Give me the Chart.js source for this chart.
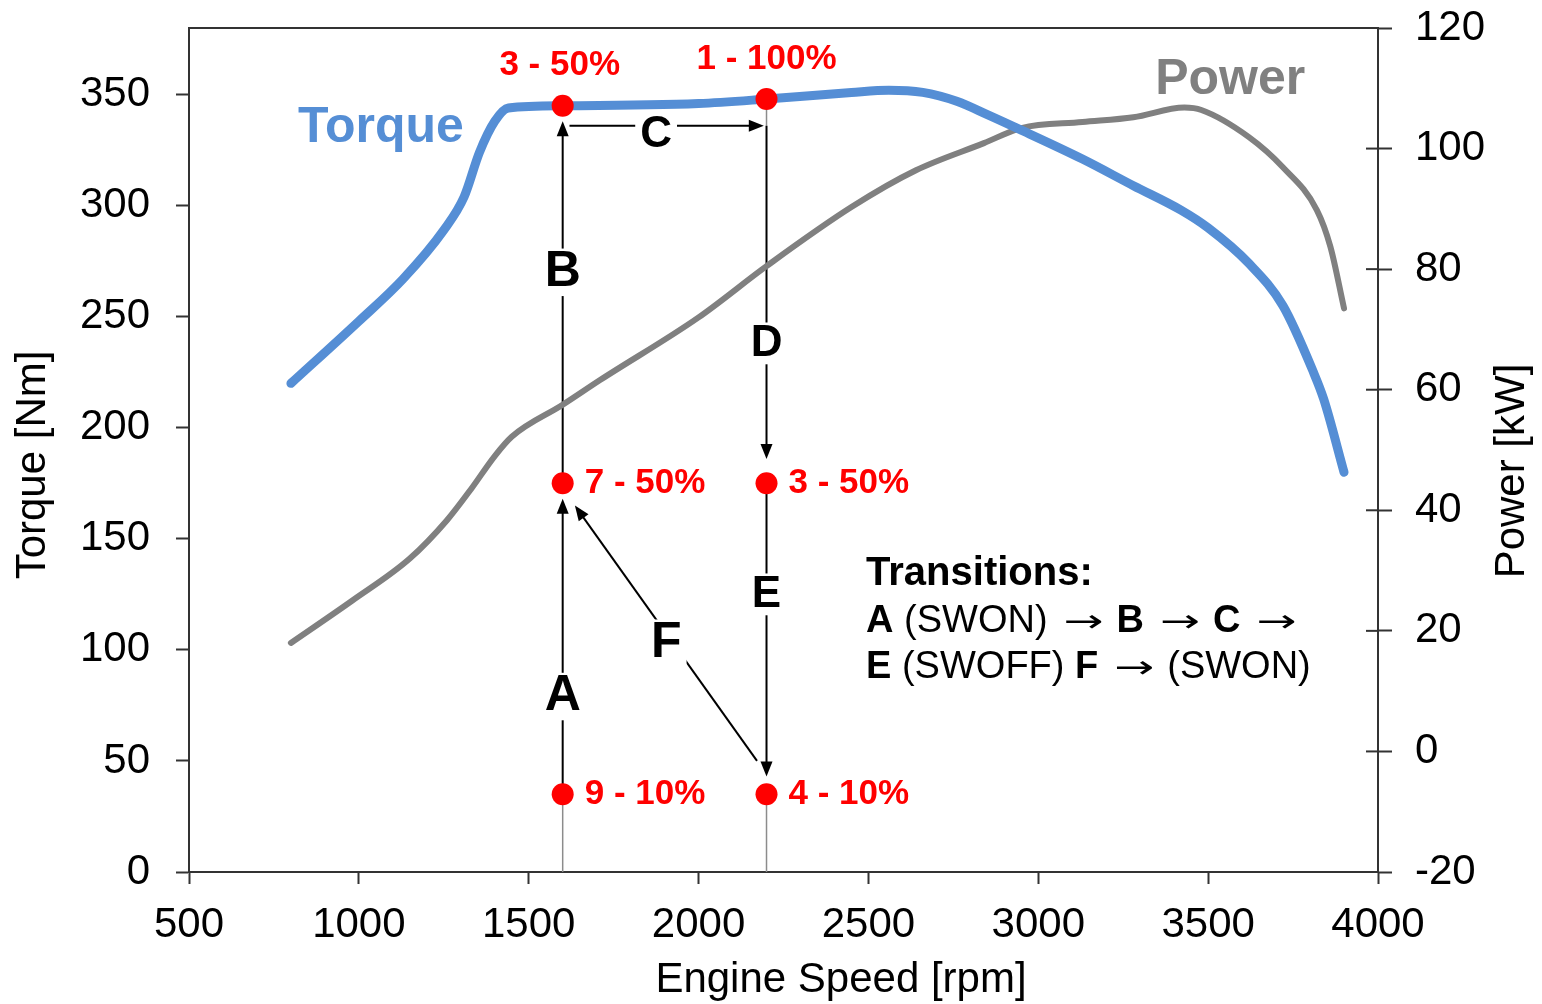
<!DOCTYPE html>
<html>
<head>
<meta charset="utf-8">
<script src="https://cdn.jsdelivr.net/npm/chart.js@4.4.1/dist/chart.umd.min.js"></script>
<style>
  html, body { margin: 0; padding: 0; background: #fff; }
  #chart { display: block; }
</style>
</head>
<body>
<canvas id="chart" width="1542" height="1004"></canvas>
<script>
// Axis ticks
const speedTicks = [500, 1000, 1500, 2000, 2500, 3000, 3500, 4000];
const torqueTicks = [0, 50, 100, 150, 200, 250, 300, 350];
const powerTicks = [-20, 0, 20, 40, 60, 80, 100, 120];

// Full load torque curve
const torqueRpm = [800, 1000, 1130, 1250, 1310, 1355, 1400, 1440, 1600, 2000, 2200, 2450, 2560, 2660, 2760, 2850, 2950, 3130, 3280, 3420, 3500, 3620, 3720, 3810, 3840, 3900];
const torqueNm = [220, 248, 267, 289, 304, 324, 338, 344, 345, 346, 348, 351, 352, 351, 347, 341, 334, 321, 309, 298, 290, 274, 255, 225, 213, 180];

// Power curve
const powerRpm = [800, 980, 1150, 1260, 1330, 1400, 1450, 1600, 1710, 2000, 2200, 2450, 2640, 2840, 2950, 3130, 3280, 3430, 3480, 3620, 3720, 3820, 3860, 3900];
const powerKw = [18, 25, 32, 38.4, 43.5, 49, 52.2, 57.5, 61.6, 72, 80.5, 90.3, 96.4, 100.9, 103.4, 104.4, 105.2, 106.8, 106.4, 101.9, 96.9, 89.8, 83.7, 73.5];

// Operating points (gear - load)
const pointRpm = [1600, 2200, 1600, 2200, 1600, 2200];
const pointNm = [345, 348, 175, 175, 35, 35];
const pointLabels = ['3 - 50%', '1 - 100%', '7 - 50%', '3 - 50%', '9 - 10%', '4 - 10%'];

// Transition arrows (rpm, Nm)
const arrowStart = [[1600, 35], [1600, 175], [1620, 336], [2200, 336], [2200, 175], [2172, 50]];
const arrowEnd = [[1600, 168], [1600, 338], [2192, 336], [2200, 186], [2200, 43], [1636, 165]];
const guideStart = [[1600, 0], [2200, 0], [2200, 348]];
const guideEnd = [[1600, 35], [2200, 35], [2200, 336]];

// Transition letters
const stepLetters = ['A', 'B', 'C', 'D', 'E', 'F'];
const stepRpm = [1600, 1600, 1875, 2200, 2200, 1905];
const stepNm = [79, 270, 332, 238, 125, 103];

const FONT = '"Liberation Sans", Arial, sans-serif';
const ARROW_FONT = '"DejaVu Sans", sans-serif';

function toXY(arr, key) {
    return arr.map((v, i) => ({ x: v, y: key[i] }));
}

function drawArrow(ctx, x1, y1, x2, y2) {
    const a = Math.atan2(y2 - y1, x2 - x1);
    const L = 15, W = 6;
    ctx.beginPath();
    ctx.moveTo(x1, y1);
    ctx.lineTo(x2 - L * Math.cos(a) * 0.8, y2 - L * Math.sin(a) * 0.8);
    ctx.stroke();
    ctx.beginPath();
    ctx.moveTo(x2, y2);
    ctx.lineTo(x2 - L * Math.cos(a) + W * Math.sin(a), y2 - L * Math.sin(a) - W * Math.cos(a));
    ctx.lineTo(x2 - L * Math.cos(a) - W * Math.sin(a), y2 - L * Math.sin(a) + W * Math.cos(a));
    ctx.closePath();
    ctx.fill();
}

// parts: [text, style] with style 'b' bold, 'r' regular, 'a' arrow glyph
function drawRich(ctx, parts, x, y) {
    parts.forEach(p => {
        if (p[1] === 'a') {
            // stretched arrow glyph, ~40px wide with gaps either side
            ctx.font = '32px ' + ARROW_FONT;
            const w = ctx.measureText(p[0]).width;
            ctx.save();
            ctx.translate(x + 16, y + 2);
            ctx.scale(40 / w, 1);
            ctx.fillText(p[0], 0, 0);
            ctx.restore();
            x += 16 + 40 + 13;
            return;
        }
        ctx.font = (p[1] === 'b' ? 'bold ' : '') + '38px ' + FONT;
        ctx.fillText(p[0], x, y);
        x += ctx.measureText(p[0]).width;
    });
}

const annotations = {
    id: 'annotations',
    beforeDatasetsDraw(chart) {
        const { ctx, scales: { x, y } } = chart;
        ctx.save();

        // thin guide lines down to the axis
        ctx.strokeStyle = '#8c8c8c';
        ctx.lineWidth = 1.5;
        guideStart.forEach((s, i) => {
            ctx.beginPath();
            ctx.moveTo(x.getPixelForValue(s[0]), y.getPixelForValue(s[1]));
            ctx.lineTo(x.getPixelForValue(guideEnd[i][0]), y.getPixelForValue(guideEnd[i][1]));
            ctx.stroke();
        });

        // arrows
        ctx.strokeStyle = '#000';
        ctx.fillStyle = '#000';
        ctx.lineWidth = 2;
        arrowStart.forEach((s, i) => {
            drawArrow(ctx,
                x.getPixelForValue(s[0]), y.getPixelForValue(s[1]),
                x.getPixelForValue(arrowEnd[i][0]), y.getPixelForValue(arrowEnd[i][1]));
        });

        // letters on white patches
        ctx.textAlign = 'center';
        ctx.textBaseline = 'middle';
        stepLetters.forEach((t, i) => {
            const size = 'ABF'.includes(t) ? 50 : 44;
            ctx.font = 'bold ' + size + 'px ' + FONT;
            const px = x.getPixelForValue(stepRpm[i]);
            const py = y.getPixelForValue(stepNm[i]);
            const w = ctx.measureText(t).width + 10;
            const h = size * 0.95;
            ctx.fillStyle = '#fff';
            ctx.fillRect(px - w / 2, py - h / 2, w, h);
            ctx.fillStyle = '#000';
            ctx.fillText(t, px, py);
        });
        ctx.restore();
    },
    afterDatasetsDraw(chart) {
        const { ctx, chartArea, scales: { x, y, y1 } } = chart;
        ctx.save();

        // top frame line and inner half of the right ticks
        ctx.strokeStyle = '#333';
        ctx.lineWidth = 2;
        ctx.beginPath();
        ctx.moveTo(chartArea.left, chartArea.top);
        ctx.lineTo(chartArea.right, chartArea.top);
        ctx.stroke();
        powerTicks.forEach(v => {
            const py = y1.getPixelForValue(v);
            ctx.beginPath();
            ctx.moveTo(chartArea.right - 12, py);
            ctx.lineTo(chartArea.right, py);
            ctx.stroke();
        });

        // point labels
        ctx.fillStyle = '#ff0000';
        ctx.font = 'bold 35px ' + FONT;
        ctx.textBaseline = 'middle';
        pointLabels.forEach((t, i) => {
            const px = x.getPixelForValue(pointRpm[i]);
            const py = y.getPixelForValue(pointNm[i]);
            if (i < 2) {
                ctx.textAlign = 'center';
                ctx.fillText(t, px - (i === 0 ? 3 : 0), py - 40);
            } else {
                ctx.textAlign = 'left';
                ctx.fillText(t, px + 22, py);
            }
        });

        // curve names
        ctx.textAlign = 'left';
        ctx.font = 'bold 50px ' + FONT;
        ctx.fillStyle = '#558ed5';
        ctx.fillText('Torque', x.getPixelForValue(821), y.getPixelForValue(335));
        ctx.fillStyle = '#808080';
        ctx.fillText('Power', x.getPixelForValue(3344), y1.getPixelForValue(111.4));

        // transitions note
        ctx.fillStyle = '#000';
        const tx = x.getPixelForValue(2493);
        const ty = y.getPixelForValue(134);
        ctx.font = 'bold 40px ' + FONT;
        ctx.fillText('Transitions:', tx, ty);
        drawRich(ctx, [['A', 'b'], [' (SWON)', 'r'], ['\u2192', 'a'], ['B', 'b'], ['\u2192', 'a'], ['C', 'b'], ['\u2192', 'a']], tx, ty + 47);
        drawRich(ctx, [['E', 'b'], [' (SWOFF) ', 'r'], ['F', 'b'], ['\u2192', 'a'], ['(SWON)', 'r']], tx, ty + 93);

        // axis titles
        ctx.font = '42px ' + FONT;
        ctx.textAlign = 'center';
        ctx.fillText('Engine Speed [rpm]', 841, 980);
        ctx.save();
        ctx.translate(33, 465);
        ctx.rotate(-Math.PI / 2);
        ctx.fillText('Torque [Nm]', 0, 0);
        ctx.restore();
        ctx.save();
        ctx.translate(1512, 471);
        ctx.rotate(-Math.PI / 2);
        ctx.fillText('Power [kW]', 0, 0);
        ctx.restore();

        ctx.restore();
    }
};

function initializeChart() {
    const ctx = document.getElementById('chart').getContext('2d');
    const tickFont = { family: FONT, size: 42 };
    const plain = v => String(v);
    new Chart(ctx, {
        type: 'line',
        data: {
            datasets: [{
                label: 'Operating points',
                data: toXY(pointRpm, pointNm),
                showLine: false,
                pointRadius: 11,
                pointBackgroundColor: '#ff0000',
                pointBorderWidth: 0,
                yAxisID: 'y',
                order: 0
            }, {
                label: 'Torque',
                data: toXY(torqueRpm, torqueNm),
                borderColor: '#558ed5',
                borderWidth: 9,
                borderCapStyle: 'round',
                cubicInterpolationMode: 'monotone',
                pointRadius: 0,
                yAxisID: 'y',
                order: 1
            }, {
                label: 'Power',
                data: toXY(powerRpm, powerKw),
                borderColor: '#808080',
                borderWidth: 6,
                borderCapStyle: 'round',
                cubicInterpolationMode: 'monotone',
                pointRadius: 0,
                yAxisID: 'y1',
                order: 2
            }]
        },
        options: {
            responsive: false,
            animation: false,
            devicePixelRatio: 1,
            layout: { padding: { top: 28, left: 0, right: 0, bottom: 0 } },
            plugins: {
                legend: { display: false },
                tooltip: { enabled: false }
            },
            scales: {
                x: {
                    type: 'linear',
                    min: 500,
                    max: 4000,
                    afterBuildTicks: s => { s.ticks = speedTicks.map(v => ({ value: v })); },
                    afterFit: s => { s.height = 132; s.paddingLeft = 0; s.paddingRight = 0; },
                    ticks: { font: tickFont, color: '#000', padding: 16, maxRotation: 0, autoSkip: false, callback: plain },
                    grid: { drawOnChartArea: false, color: '#333', tickLength: 12, tickWidth: 2 },
                    border: { color: '#333', width: 2 }
                },
                y: {
                    position: 'left',
                    min: 0,
                    max: 380,
                    afterBuildTicks: s => { s.ticks = torqueTicks.map(v => ({ value: v })); },
                    afterFit: s => { s.width = 189; s.paddingTop = 0; s.paddingBottom = 0; },
                    ticks: { font: tickFont, color: '#000', padding: 26, callback: plain },
                    grid: { drawOnChartArea: false, color: '#333', tickLength: 13, tickWidth: 2 },
                    border: { color: '#333', width: 2 }
                },
                y1: {
                    position: 'right',
                    min: -20,
                    max: 120,
                    afterBuildTicks: s => { s.ticks = powerTicks.map(v => ({ value: v })); },
                    afterFit: s => { s.width = 164; s.paddingTop = 0; s.paddingBottom = 0; },
                    ticks: { font: tickFont, color: '#000', padding: 23, callback: plain },
                    grid: { drawOnChartArea: false, color: '#333', tickLength: 14, tickWidth: 2 },
                    border: { color: '#333', width: 2 }
                }
            }
        },
        plugins: [annotations]
    });
}

document.addEventListener('DOMContentLoaded', function() {
    initializeChart();
});
</script>
</body>
</html>
